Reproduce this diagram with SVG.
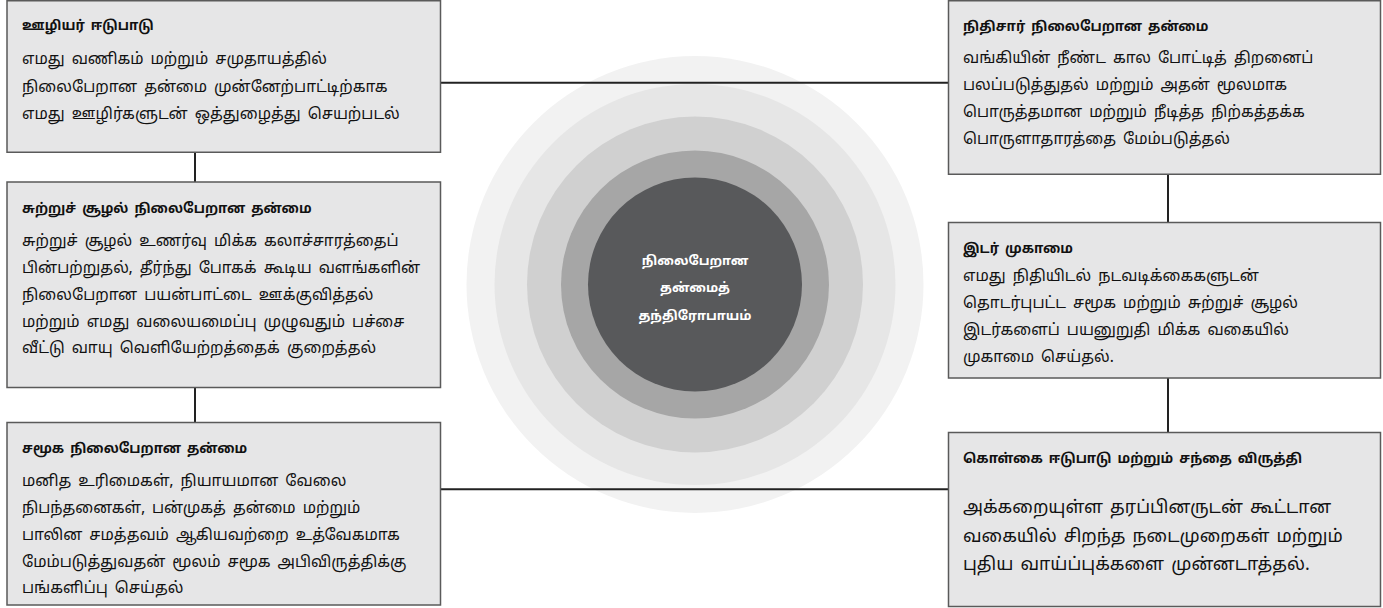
<svg xmlns="http://www.w3.org/2000/svg" width="1383" height="608" viewBox="0 0 1383 608">
<style>
.box{fill:#e6e6e7;stroke:#5a5a5a;stroke-width:1.5}
.conn{stroke:#222;stroke-width:2;fill:none}
.t{font-family:"Noto Sans Tamil","Noto Serif Tamil","Lohit Tamil","Latha","Noto Sans",sans-serif;fill:#111;font-weight:bold;font-size:13.5px;word-spacing:2.5px}
.b{font-family:"Noto Sans Tamil","Noto Serif Tamil","Lohit Tamil","Latha","Noto Sans",sans-serif;fill:#111;font-size:15.5px;word-spacing:3px}
.bl{font-family:"Noto Sans Tamil","Noto Serif Tamil","Lohit Tamil","Latha","Noto Sans",sans-serif;fill:#111;font-size:17.8px;word-spacing:2.5px}
.c{font-family:"Noto Sans Tamil","Noto Serif Tamil","Lohit Tamil","Latha","Noto Sans",sans-serif;fill:#fff;font-weight:bold;font-size:13px;text-anchor:middle}
</style>
<rect width="1383" height="608" fill="#fff"/>
<g id="center">
<circle cx="695" cy="284.5" r="228.5" fill="#f2f2f2"/>
<circle cx="695" cy="284.5" r="200.5" fill="#e6e6e6"/>
<circle cx="695" cy="284.5" r="168" fill="#d0d0d0"/>
<circle cx="695" cy="284.5" r="134" fill="#a6a6a6"/>
<circle cx="695" cy="284.5" r="107" fill="#58595b"/>
<text class="c" x="695" y="265">நிலைபேறான</text>
<text class="c" x="695" y="292">தன்மைத்</text>
<text class="c" x="695" y="320">தந்திரோபாயம்</text>
</g>
<g id="connectors">
<line class="conn" x1="440" y1="82.7" x2="948" y2="82.7"/>
<line class="conn" x1="440" y1="489.3" x2="948" y2="489.3"/>
<line class="conn" x1="195" y1="152" x2="195" y2="182"/>
<line class="conn" x1="195" y1="388" x2="195" y2="422"/>
<line class="conn" x1="1168" y1="175" x2="1168" y2="222"/>
<line class="conn" x1="1168" y1="378" x2="1168" y2="433"/>
</g>
<g id="box-employee">
<rect class="box" x="7" y="0.75" width="433.5" height="151.5"/>
<text class="t" x="22" y="30">ஊழியர் ஈடுபாடு</text>
<text class="b" x="22" y="64">எமது வணிகம் மற்றும் சமுதாயத்தில்</text>
<text class="b" x="22" y="92">நிலைபேறான தன்மை முன்னேற்பாட்டிற்காக</text>
<text class="b" x="22" y="119">எமது ஊழிர்களுடன் ஒத்துழைத்து செயற்படல்</text>
</g>
<g id="box-environment">
<rect class="box" x="7" y="182" width="433.5" height="205.5"/>
<text class="t" x="22" y="213">சுற்றுச் சூழல் நிலைபேறான தன்மை</text>
<text class="b" x="22" y="246">சுற்றுச் சூழல் உணர்வு மிக்க கலாச்சாரத்தைப்</text>
<text class="b" x="22" y="273">பின்பற்றுதல், தீர்ந்து போகக் கூடிய வளங்களின்</text>
<text class="b" x="22" y="300">நிலைபேறான பயன்பாட்டை ஊக்குவித்தல்</text>
<text class="b" x="22" y="327">மற்றும் எமது வலையமைப்பு முழுவதும் பச்சை</text>
<text class="b" x="22" y="353">வீட்டு வாயு வெளியேற்றத்தைக் குறைத்தல்</text>
</g>
<g id="box-social">
<rect class="box" x="7" y="422.5" width="433.5" height="182.5"/>
<text class="t" x="22" y="453">சமூக நிலைபேறான தன்மை</text>
<text class="b" x="22" y="486">மனித உரிமைகள், நியாயமான வேலை</text>
<text class="b" x="22" y="513">நிபந்தனைகள், பன்முகத் தன்மை மற்றும்</text>
<text class="b" x="22" y="540">பாலின சமத்தவம் ஆகியவற்றை உத்வேகமாக</text>
<text class="b" x="22" y="567">மேம்படுத்துவதன் மூலம் சமூக அபிவிருத்திக்கு</text>
<text class="b" x="22" y="593">பங்களிப்பு செய்தல்</text>
</g>
<g id="box-financial">
<rect class="box" x="948.5" y="0.75" width="432" height="173.5"/>
<text class="t" x="963" y="31">நிதிசார் நிலைபேறான தன்மை</text>
<text class="b" x="963" y="63">வங்கியின் நீண்ட கால போட்டித் திறனைப்</text>
<text class="b" x="963" y="90">பலப்படுத்துதல் மற்றும் அதன் மூலமாக</text>
<text class="b" x="963" y="117">பொருத்தமான மற்றும் நீடித்த நிற்கத்தக்க</text>
<text class="b" x="963" y="144">பொருளாதாரத்தை மேம்படுத்தல்</text>
</g>
<g id="box-risk">
<rect class="box" x="948.5" y="222.5" width="432" height="155.5"/>
<text class="t" x="963" y="253">இடர் முகாமை</text>
<text class="b" x="963" y="281">எமது நிதியிடல் நடவடிக்கைகளுடன்</text>
<text class="b" x="963" y="308">தொடர்புபட்ட சமூக மற்றும் சுற்றுச் சூழல்</text>
<text class="b" x="963" y="335">இடர்களைப் பயனுறுதி மிக்க வகையில்</text>
<text class="b" x="963" y="362">முகாமை செய்தல்.</text>
</g>
<g id="box-policy">
<rect class="box" x="948.5" y="432.5" width="432" height="174"/>
<text class="t" x="963" y="463">கொள்கை ஈடுபாடு மற்றும் சந்தை விருத்தி</text>
<text class="bl" x="963" y="513">அக்கறையுள்ள தரப்பினருடன் கூட்டான</text>
<text class="bl" x="963" y="542">வகையில் சிறந்த நடைமுறைகள் மற்றும்</text>
<text class="bl" x="963" y="570">புதிய வாய்ப்புக்களை முன்னடாத்தல்.</text>
</g>
</svg>
